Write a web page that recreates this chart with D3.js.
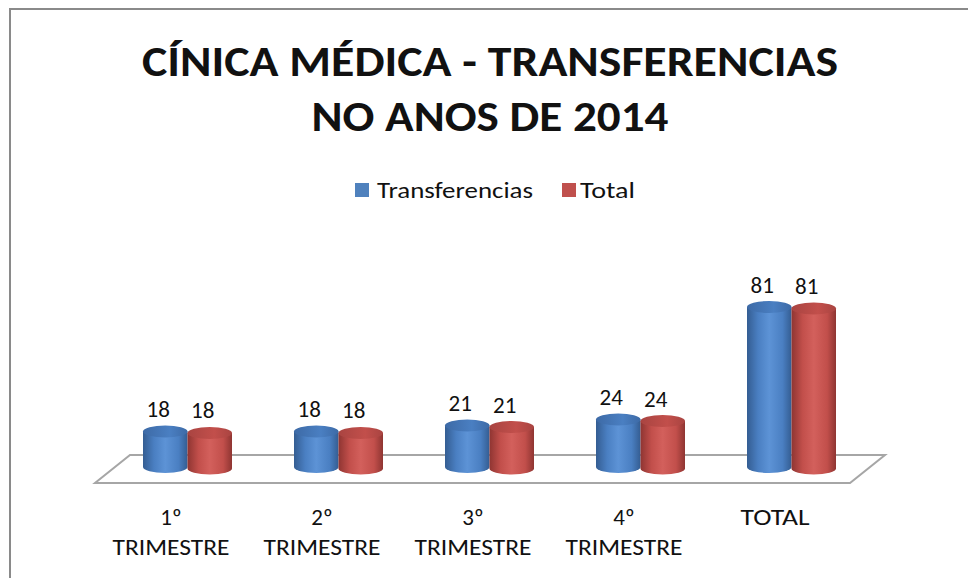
<!DOCTYPE html>
<html>
<head>
<meta charset="utf-8">
<script src="https://cdn.jsdelivr.net/npm/d3@7"></script>
<style>
  html, body { margin: 0; padding: 0; background: #fff; }
  svg { display: block; }
  text { font-family: Carlito, Lato, "Open Sans", sans-serif; fill: #111; }
</style>
</head>
<body>
<svg id="chart" width="968" height="578"></svg>
<script>
// ---- data ----
const categories = ["1º TRIMESTRE", "2º TRIMESTRE", "3º TRIMESTRE", "4º TRIMESTRE", "TOTAL"];
const categoryLines = [["1º", "TRIMESTRE"], ["2º", "TRIMESTRE"], ["3º", "TRIMESTRE"], ["4º", "TRIMESTRE"], ["TOTAL"]];
const seriesNames = ["Transferencias", "Total"];
const transferencias = [18, 18, 21, 24, 81];
const total = [18, 18, 21, 24, 81];
const titleLines = ["CÍNICA MÉDICA - TRANSFERENCIAS", "NO ANOS DE 2014"];

const seriesValues = [transferencias, total];
const colors = [
  { dark: "#345d92", mid: "#4a7fc2", light: "#5d93d6", top: "#3d6aa6" },
  { dark: "#8f3532", mid: "#c24f4b", light: "#d3605c", top: "#a94441" }
];

const svg = d3.select("#chart");
const defs = svg.append("defs");
colors.forEach((c, i) => {
  const g = defs.append("linearGradient").attr("id", "grad" + i)
    .attr("x1", "0%").attr("x2", "100%").attr("y1", "0%").attr("y2", "0%");
  g.append("stop").attr("offset", "0%").attr("stop-color", c.dark);
  g.append("stop").attr("offset", "25%").attr("stop-color", c.mid);
  g.append("stop").attr("offset", "50%").attr("stop-color", c.light);
  g.append("stop").attr("offset", "80%").attr("stop-color", c.mid);
  g.append("stop").attr("offset", "100%").attr("stop-color", c.dark);
  const t = defs.append("linearGradient").attr("id", "top" + i)
    .attr("x1", "0%").attr("x2", "100%").attr("y1", "0%").attr("y2", "0%");
  t.append("stop").attr("offset", "0%").attr("stop-color", c.top);
  t.append("stop").attr("offset", "60%").attr("stop-color", c.mid);
  t.append("stop").attr("offset", "100%").attr("stop-color", c.top);
});

// frame
svg.append("rect").attr("x", 10).attr("y", 9).attr("width", 1000).attr("height", 600)
  .attr("fill", "none").attr("stroke", "#8a8a8a").attr("stroke-width", 2);

// title
titleLines.forEach((t, i) => {
  svg.append("text").attr("x", 490).attr("y", i === 0 ? 76 : 131)
    .attr("text-anchor", "middle")
    .attr("font-size", 42).attr("font-weight", "bold")
    .attr("textLength", i === 0 ? 696 : 357).attr("lengthAdjust", "spacingAndGlyphs")
    .text(t);
});

// legend
const legendItems = [
  { name: seriesNames[0], sx: 355, tx: 377, w: 156 },
  { name: seriesNames[1], sx: 562, tx: 580, w: 55 }
];
legendItems.forEach((d, i) => {
  svg.append("rect").attr("x", d.sx).attr("y", 183).attr("width", 14).attr("height", 14)
    .attr("fill", i === 0 ? "#4f81bd" : "#c0504d");
  svg.append("text").attr("x", d.tx).attr("y", 198).attr("font-size", 22)
    .attr("textLength", d.w).attr("lengthAdjust", "spacingAndGlyphs")
    .text(d.name);
});

// scales
const x = d3.scaleBand().domain(categories).range([111.5, 866.5]).paddingInner(0).paddingOuter(0);
const xs = d3.scaleBand().domain(seriesNames).range([-44, 45]);
const y = d3.scaleLinear().domain([0, 81]).range([467, 307]);

// floor
const floorPts = [[130, 455], [885, 455], [850, 483], [95, 483]];
svg.append("path").attr("d", d3.line()(floorPts) + "Z")
  .attr("fill", "#fff").attr("stroke", "#a6a6a6").attr("stroke-width", 2);

// bars (cylinders)
const ry = 6;
const barsG = svg.append("g");
categories.forEach((cat, ci) => {
  seriesNames.forEach((s, si) => {
    const v = seriesValues[si][ci];
    const cx = x(cat) + x.bandwidth() / 2;
    const x0 = cx + xs(s);
    const w = xs.bandwidth();
    const rx = w / 2;
    const yb = y(0) + si * 1.5;
    const yt = y(v) + si * 1.5;
    const path = d3.path();
    path.moveTo(x0, yt);
    path.lineTo(x0, yb);
    path.ellipse ? null : null;
    const d = `M${x0},${yt} L${x0},${yb} A${rx},${ry} 0 0 0 ${x0 + w},${yb} L${x0 + w},${yt} Z`;
    barsG.append("path").attr("d", d).attr("fill", `url(#grad${si})`);
    barsG.append("ellipse").attr("cx", x0 + rx).attr("cy", yt).attr("rx", rx).attr("ry", ry)
      .attr("fill", `url(#top${si})`);
    barsG.append("text").attr("x", x0 + rx - 7).attr("y", yt - 14.5)
      .attr("text-anchor", "middle").attr("font-size", 23).text(v);
  });
});

// category labels
categories.forEach((cat, ci) => {
  const cx = x(cat) + x.bandwidth() / 2 - 16;
  const lines = categoryLines[ci];
  lines.forEach((ln, li) => {
    const t = svg.append("text").attr("x", cx).attr("y", 525 + li * 30)
      .attr("text-anchor", "middle").attr("font-size", 23).text(ln);
    if (ln === "TRIMESTRE") t.attr("textLength", 117).attr("lengthAdjust", "spacingAndGlyphs");
    if (ln === "TOTAL") t.attr("textLength", 69).attr("lengthAdjust", "spacingAndGlyphs");
  });
});
</script>
</body>
</html>
